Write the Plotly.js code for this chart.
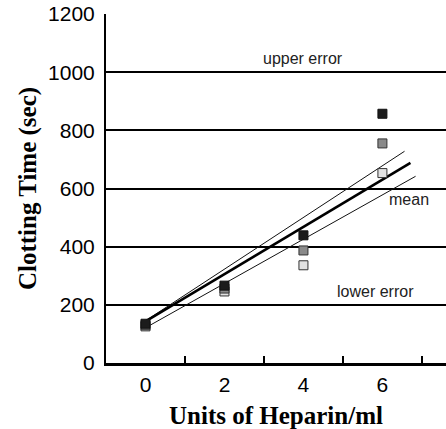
<!DOCTYPE html>
<html><head><meta charset="utf-8">
<script src="https://cdn.plot.ly/plotly-3.0.1.min.js"></script>
<style>html,body{margin:0;padding:0;background:#fff}#c{width:446px;height:429px}</style>
</head><body><div id="c"></div>
<script>
const heparin = [0, 2, 4, 6];
const seriesDark = [135, 266, 439, 857];
const seriesMid = [130, 256, 387, 755];
const seriesLight = [126, 246, 336, 653];
const meanX = [0, 6.71], meanY = [143, 688];
const upperX = [0, 6.56], upperY = [145, 728];
const lowerX = [0, 6.84], lowerY = [121, 642];
const xLabelVals = [0, 2, 4, 6];
const xTickMarks = [1, 3, 5, 7];
const yTicks = [0, 200, 400, 600, 800, 1000, 1200];
const notes = [
  {text: 'upper error', x: 4.0, y: 1046},
  {text: 'mean', x: 6.67, y: 562},
  {text: 'lower error', x: 5.83, y: 245}
];

const traces = [
  {x: upperX, y: upperY, mode: 'lines', line: {color: '#111', width: 1}, xaxis: 'x', yaxis: 'y'},
  {x: lowerX, y: lowerY, mode: 'lines', line: {color: '#111', width: 1}},
  {x: meanX, y: meanY, mode: 'lines', line: {color: '#000', width: 2.6}},
  {x: heparin, y: seriesLight, mode: 'markers', marker: {symbol: 'square', size: 9, color: '#e2e2e2', line: {color: '#333', width: 1}}},
  {x: heparin, y: seriesMid, mode: 'markers', marker: {symbol: 'square', size: 9, color: '#8a8a8a', line: {color: '#333', width: 1}}},
  {x: heparin, y: seriesDark, mode: 'markers', marker: {symbol: 'square', size: 9, color: '#1c1c1c', line: {color: '#111', width: 1}}},
  {x: [0], y: [0], mode: 'markers', marker: {opacity: 0}, xaxis: 'x2', hoverinfo: 'skip'}
];

const layout = {
  width: 446, height: 429,
  margin: {l: 106, r: 0, t: 14, b: 66},
  showlegend: false,
  paper_bgcolor: '#fff', plot_bgcolor: '#fff',
  font: {family: 'Liberation Sans, Arial, sans-serif', color: '#000'},
  xaxis: {
    range: [-1, 7.61], tickvals: xLabelVals, ticktext: xLabelVals.map(String),
    ticks: '', showgrid: false, zeroline: false,
    showline: true, linecolor: '#000', linewidth: 2.5,
    tickfont: {size: 21, family: 'Liberation Sans, Arial, sans-serif'},
    ticklabelstandoff: 1,
    title: {text: 'Units of Heparin/ml', font: {family: 'Liberation Serif, Times New Roman, serif', size: 25, weight: 'bold'}, standoff: 20},
    automargin: false
  },
  xaxis2: {
    overlaying: 'x', anchor: 'y', side: 'bottom', range: [-1, 7.61],
    tickvals: xTickMarks, ticks: 'inside', ticklen: 7, tickwidth: 2, tickcolor: '#000',
    showticklabels: false, showgrid: false, zeroline: false, showline: false
  },
  yaxis: {
    range: [0, 1200], tickvals: yTicks, ticks: '',
    showgrid: true, gridcolor: '#000', gridwidth: 2,
    zeroline: false, showline: true, linecolor: '#000', linewidth: 2,
    tickfont: {size: 21, family: 'Liberation Sans, Arial, sans-serif'},
    ticklabelstandoff: 5,
    title: {text: 'Clotting Time (sec)', font: {family: 'Liberation Serif, Times New Roman, serif', size: 25, weight: 'bold'}, standoff: 4},
    automargin: false
  },
  annotations: notes.map(n => ({
    text: n.text, x: n.x, y: n.y, xref: 'x', yref: 'y', showarrow: false,
    font: {size: 16, color: '#222', family: 'Liberation Sans, Arial, sans-serif'},
    xanchor: 'center', yanchor: 'middle'
  }))
};

Plotly.newPlot('c', traces, layout, {staticPlot: true, displayModeBar: false});
</script>
</body></html>
